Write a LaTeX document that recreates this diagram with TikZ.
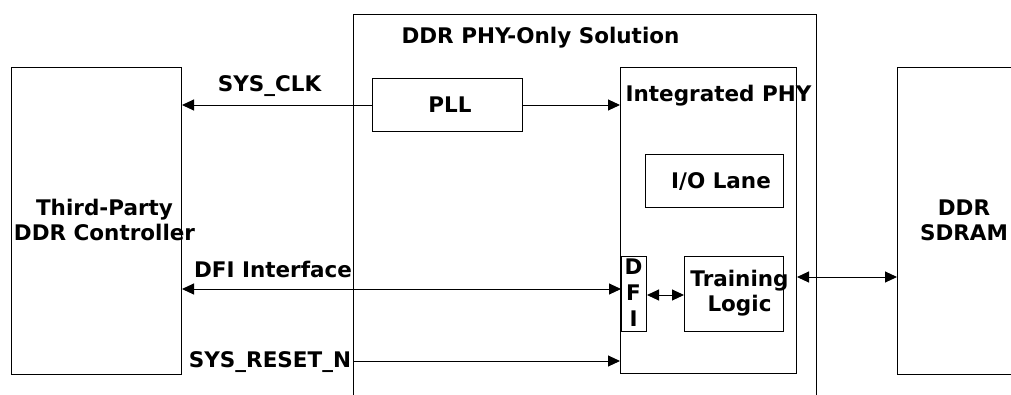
\documentclass[tikz,border=0pt]{standalone}
\usepackage{fontspec}
\setmainfont{DejaVu Sans}
\usetikzlibrary{arrows.meta}
\begin{document}
\begin{tikzpicture}[x=1pt,y=-1pt,
  box/.style={draw, line width=1pt, inner sep=0pt, anchor=north west},
  lbl/.style={font=\bfseries\fontsize{21.5}{25}\selectfont, inner sep=0pt, anchor=base},
  mlbl/.style={font=\bfseries\fontsize{21.5}{25}\selectfont, inner sep=0pt, anchor=center, align=center},
  conn/.style={line width=1pt},
  tip/.style={-{Triangle[length=12pt,width=11pt]}},
  both/.style={{Triangle[length=12pt,width=11pt]}-{Triangle[length=12pt,width=11pt]}}]
\clip (0,0) rectangle (1011,394);
\fill[white] (0,0) rectangle (1011,394);
% boxes
\node[box, minimum width=170pt, minimum height=307pt] (ctrl) at (11,67) {};
\node[box, minimum width=463pt, minimum height=420pt] (sol) at (353,14) {};
\node[box, minimum width=176pt, minimum height=306pt] (phy) at (620,67) {};
\node[box, minimum width=150pt, minimum height=53pt] (pll) at (372,78) {};
\node[box, minimum width=138pt, minimum height=53pt] (io) at (645,154) {};
\node[box, minimum width=25pt, minimum height=75pt] (dfi) at (621,256) {};
\node[box, minimum width=99pt, minimum height=75pt] (train) at (684,256) {};
\node[box, minimum width=160pt, minimum height=307pt] (sdram) at (897,67) {};
% labels
\node[mlbl] (tctrl) at (104.5,219.5) {Third-Party\\DDR Controller};
\node[lbl] (tsol) at (540.5,43.5) {DDR PHY-Only Solution};
\node[lbl] (tpll) at (450,112) {PLL};
\node[lbl] (tphy) at (718.5,101) {Integrated PHY};
\node[lbl] (tio) at (721,188) {I/O Lane};
\node[mlbl, font=\bfseries\fontsize{21.5}{26}\selectfont] (tdfi) at (633.5,292.5) {D\\F\\I};
\node[mlbl] (ttrain) at (739.5,293.5) {Training\\Logic};
\node[mlbl] (tsdram) at (964,220.2) {DDR\\SDRAM};
\node[lbl] (tclk) at (269.5,91) {SYS\_CLK};
\node[lbl] (tdfii) at (273,277) {DFI Interface};
\node[lbl] (trst) at (270,367) {SYS\_RESET\_N};
% connectors
\draw[conn, tip] (pll.west) -- (ctrl.east |- pll.west);
\draw[conn, tip] (pll.east) -- (phy.west |- pll.east);
\draw[conn, both] (ctrl.east |- 0,289) -- (dfi.west |- 0,289);
\draw[conn, tip] (sol.west |- 0,361) -- (phy.west |- 0,361);
\draw[conn, both] (dfi.east |- 0,295) -- (train.west |- 0,295);
\draw[conn, both] (phy.east |- 0,277) -- (sdram.west |- 0,277);
\end{tikzpicture}
\end{document}
